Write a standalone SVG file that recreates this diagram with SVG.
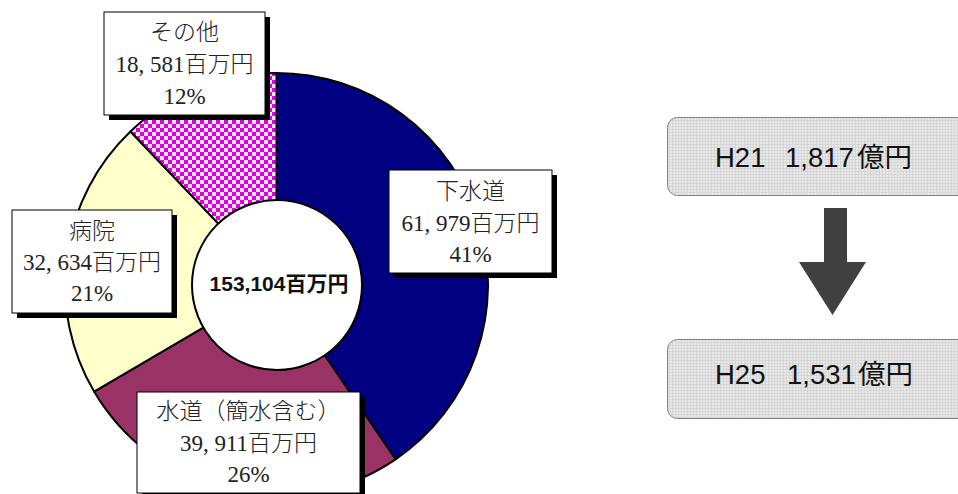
<svg xmlns="http://www.w3.org/2000/svg" width="958" height="494" viewBox="0 0 958 494">
<defs>
<pattern id="chk" width="8" height="8" patternUnits="userSpaceOnUse">
<rect width="8" height="8" fill="#f060f0"/>
<rect width="4" height="4" fill="#e000e0"/>
<rect x="4" y="4" width="4" height="4" fill="#e000e0"/>
<rect x="4" y="0" width="4" height="4" fill="#ffe6ff"/>
<rect x="0" y="4" width="4" height="4" fill="#ffe6ff"/>
</pattern>
<pattern id="grid" width="3" height="3" patternUnits="userSpaceOnUse">
<rect width="3" height="3" fill="#e9e9e9"/>
<rect width="3" height="1" fill="#d6d6d6"/>
<rect width="1" height="3" fill="#d6d6d6"/>
</pattern>
</defs>
<style>
.slice{stroke:#000;stroke-width:2;stroke-linejoin:round}
.shadow{fill:#000}
.lbl{fill:#fff;stroke:#000;stroke-width:1}
.lt{font-family:"Liberation Serif","Noto Sans CJK JP",serif;font-size:23px;font-weight:300;fill:#222;text-anchor:middle}
.ct{font-family:"Liberation Sans","Noto Sans CJK JP",sans-serif;font-size:21px;font-weight:bold;fill:#111;text-anchor:middle}
.gbox{fill:url(#grid);stroke:#808080;stroke-width:1}
.gt{font-family:"Liberation Sans","Noto Sans CJK JP",sans-serif;font-size:27.5px;fill:#111}
</style>
<rect width="958" height="494" fill="#fff"/>

<g id="pie">
<path id="slice-gesuido" class="slice" fill="#000080" d="M276.5,284.5 L276.5,73 A211.5,211.5 0 0 1 395.57,459.3 Z"/>
<path id="slice-suido" class="slice" fill="#993366" d="M276.5,284.5 L395.57,459.3 A211.5,211.5 0 0 1 94.12,391.6 Z"/>
<path id="slice-byoin" class="slice" fill="#ffffcc" d="M276.5,284.5 L94.12,391.6 A211.5,211.5 0 0 1 130.44,131.52 Z"/>
<path id="slice-sonota" class="slice" fill="url(#chk)" d="M276.5,284.5 L130.44,131.52 A211.5,211.5 0 0 1 276.5,73 Z"/>
</g>

<g id="node-center">
<circle cx="277" cy="285" r="85" fill="#fff" stroke="#000" stroke-width="2"/>
<text class="ct" x="279" y="291">153,104百万円</text>
</g>

<g id="node-sonota">
<rect class="shadow" x="109" y="17" width="161" height="103"/>
<rect class="lbl" x="104" y="12" width="161" height="103"/>
<text class="lt" x="184.5" y="40">その他</text>
<text class="lt" x="184.5" y="72">18, 581百万円</text>
<text class="lt" x="184.5" y="104">12%</text>
</g>

<g id="node-gesuido">
<rect class="shadow" x="394" y="175" width="163" height="103"/>
<rect class="lbl" x="389" y="170" width="163" height="103"/>
<text class="lt" x="470.5" y="199">下水道</text>
<text class="lt" x="470.5" y="231">61, 979百万円</text>
<text class="lt" x="470.5" y="262">41%</text>
</g>

<g id="node-byoin">
<rect class="shadow" x="17" y="215" width="160" height="103"/>
<rect class="lbl" x="12" y="210" width="160" height="103"/>
<text class="lt" x="92" y="239">病院</text>
<text class="lt" x="92" y="270">32, 634百万円</text>
<text class="lt" x="92" y="301">21%</text>
</g>

<g id="node-suido">
<rect class="shadow" x="142" y="397" width="223" height="101"/>
<rect class="lbl" x="137" y="392" width="223" height="101"/>
<text class="lt" x="248.5" y="419">水道（簡水含む）</text>
<text class="lt" x="248.5" y="451">39, 911百万円</text>
<text class="lt" x="248.5" y="482">26%</text>
</g>

<g id="node-h21">
<rect class="gbox" x="667.5" y="117.5" width="320" height="78" rx="10" ry="10"/>
<text class="gt" x="715" y="167">H21<tspan x="785">1,817</tspan><tspan x="857">億円</tspan></text>
</g>

<g id="node-h25">
<rect class="gbox" x="667.5" y="339.5" width="320" height="79" rx="10" ry="10"/>
<text class="gt" x="715" y="384">H25<tspan x="787">1,531</tspan><tspan x="858">億円</tspan></text>
</g>

<g id="connectors">
<polygon fill="#404040" points="824,208 847,208 847,262 866,262 832.5,315 799,262 824,262"/>
</g>
</svg>
